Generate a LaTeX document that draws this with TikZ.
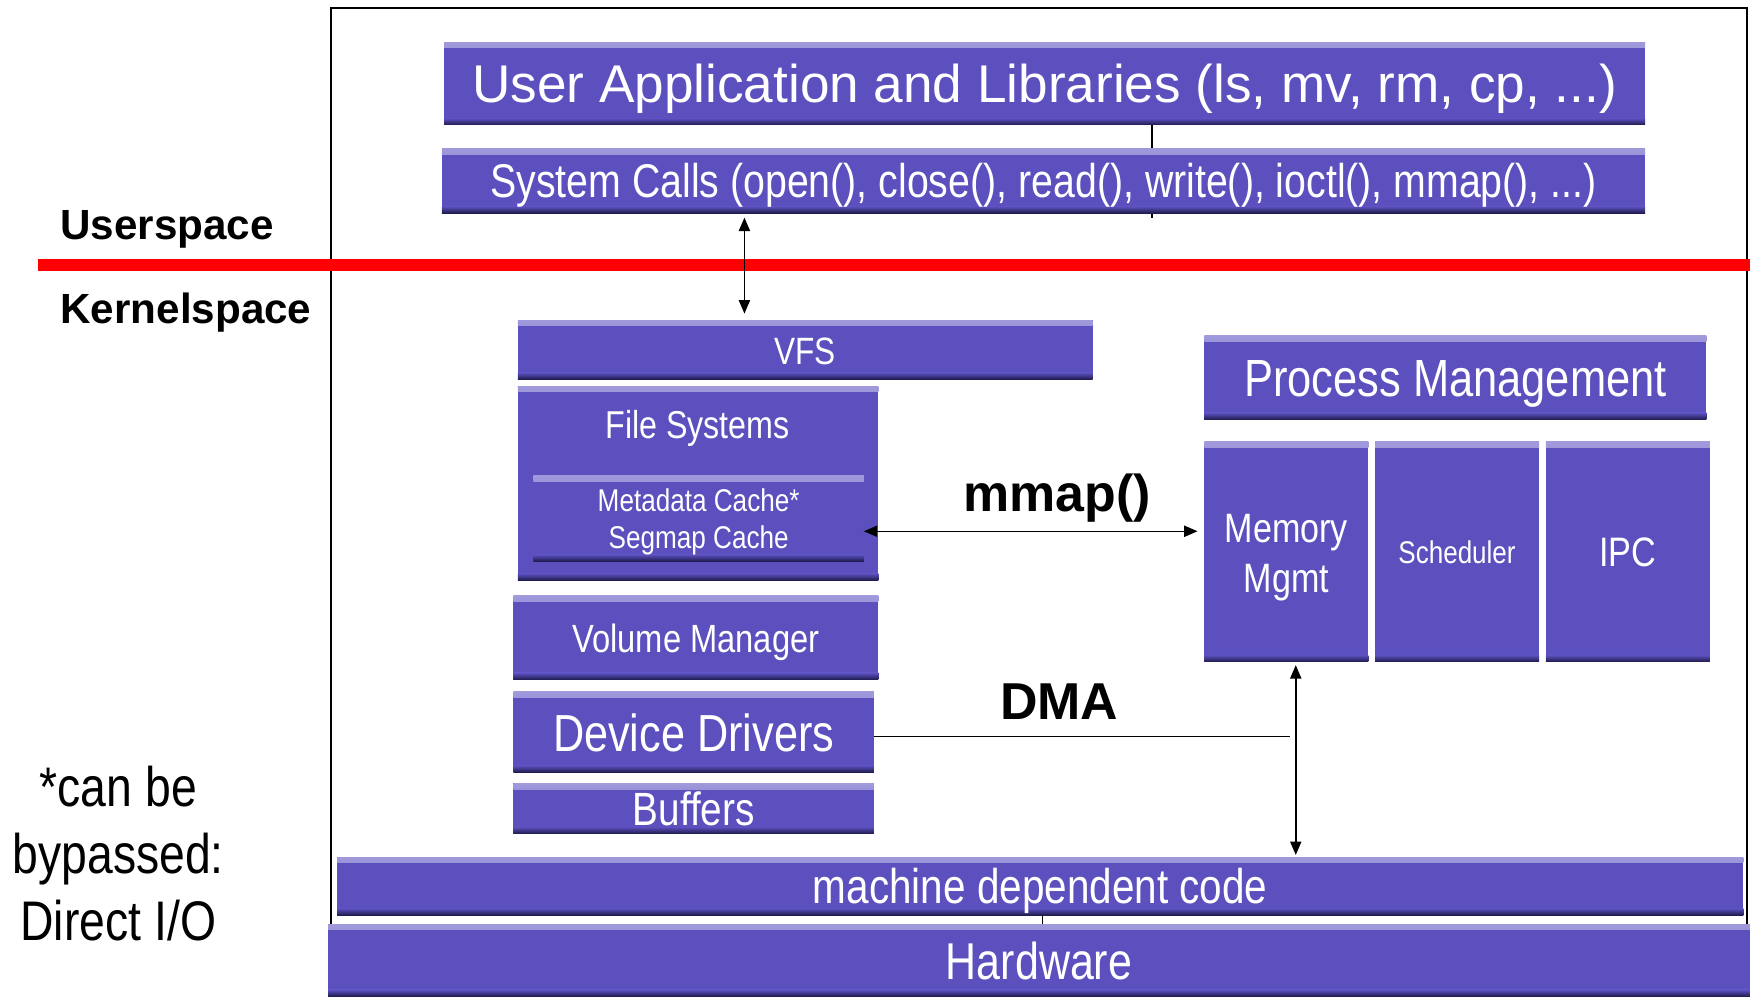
\documentclass[tikz,border=0pt]{standalone}
\usepackage{fontspec}
\setmainfont{Liberation Sans}
\newfontfamily\cond[FakeStretch=0.83]{Liberation Sans}
\usetikzlibrary{arrows.meta}
\pgfdeclarelayer{bg}
\pgfsetlayers{bg,main}
\definecolor{boxc}{RGB}{91,80,190}
\definecolor{boxlight}{RGB}{160,154,220}
\definecolor{boxdark}{RGB}{30,26,76}
\newcommand\fsz[2]{\fontsize{#1}{#2}\selectfont}
\begin{document}
\begin{tikzpicture}[x=1pt,y=-1pt,
  box/.style={fill=boxc, text=white, inner sep=0pt, outer sep=0pt, align=center, text depth=0pt,
    path picture={
      \shade[top color=boxlight,bottom color=boxc] (path picture bounding box.north west) rectangle ([yshift=-5pt]path picture bounding box.north east);
      \shade[top color=boxc,bottom color=boxdark] ([yshift=6pt]path picture bounding box.south west) rectangle (path picture bounding box.south east);}},
  dbl/.style={{Triangle[length=12pt,width=10pt]}-{Triangle[length=12pt,width=10pt]}, line width=1.3pt},
  conn/.style={line width=1.3pt},
  side/.style={font={\bfseries\fsz{37.8}{40}}, anchor=base west, inner sep=0pt},
  big/.style={font={\bfseries\fsz{46.5}{50}}, inner sep=0pt}
]
\useasboundingbox (0,0) rectangle (1568,893);
% frame
\draw[line width=1.8pt] (297,7) rectangle (1565,880);

% boxes
\node[box, minimum width=1076pt, minimum height=74pt, font=\fsz{47.6}{57}] (user) at (936,75) {User Application and Libraries (ls, mv, rm, cp, ...)};
\node[box, minimum width=1078pt, minimum height=58pt, font={\cond\fsz{42.4}{50}}] (sys) at (935,162) {System Calls (open(), close(), read(), write(), ioctl(), mmap(), ...)};
\node[box, minimum width=515pt, minimum height=53pt, font={\cond\fsz{34.1}{40}}] (vfs) at (721.5,313.5) {\raisebox{-2pt}{VFS}};
\node[box, minimum width=323pt, minimum height=174pt] (fs) at (625.5,433) {};
\node[text=white, inner sep=0pt, text depth=0pt, font={\cond\fsz{34.8}{40}}] (fslabel) at (625,380) {File Systems};
\node[box, minimum width=296pt, minimum height=77pt, font={\cond\fsz{28.2}{33}}] (cache) at (626,464.5) {Metadata Cache*\\Segmap Cache};
\node[box, minimum width=327pt, minimum height=75pt, font={\cond\fsz{35.3}{40}}] (vol) at (623.5,571.5) {Volume Manager};
\node[box, minimum width=323pt, minimum height=72pt, font={\cond\fsz{46.7}{50}}] (dev) at (621.5,656) {Device Drivers};
\node[box, minimum width=323pt, minimum height=45pt, font={\cond\fsz{41.8}{45}}] (buf) at (621.5,724.5) {Buffers};
\node[box, minimum width=1260pt, minimum height=52pt, font={\cond\fsz{43.7}{48}}] (md) at (932,794) {machine dependent code};
\node[box, minimum width=1274pt, minimum height=65pt, font={\cond\fsz{46.4}{50}}] (hw) at (931,860.5) {Hardware};
\node[box, minimum width=450pt, minimum height=75pt, font={\cond\fsz{46.9}{50}}] (pm) at (1304,338.5) {\raisebox{-2pt}{Process Management}};
\node[box, minimum width=147pt, minimum height=197pt, font={\cond\fsz{36.8}{45}}] (mem) at (1152.5,494.5) {\raisebox{-2pt}{Memory}\\\raisebox{-2pt}{Mgmt}};
\node[box, minimum width=147pt, minimum height=197pt, font={\cond\fsz{28.1}{32}}] (sch) at (1305.5,494.5) {Scheduler};
\node[box, minimum width=147pt, minimum height=197pt, font={\cond\fsz{36.9}{40}}] (ipc) at (1458.5,494.5) {IPC};

% red separator
\coordinate (r1) at (34,237.5);
\coordinate (r2) at (1568,237.5);
\draw[red, line width=10.5pt] (r1) -- (r2);

% side labels
\node[side] (us) at (54,215) {Userspace};
\node[side] (ks) at (54,290) {Kernelspace};
\node[font={\cond\fsz{50}{60}}, align=center, inner sep=0pt] (note) at (106,765) {*can be\\bypassed:\\Direct I/O};

% connector labels
\node[big] (mm) at (947,446) {mmap()};
\node[big] (dma) at (949,629) {DMA};

% connectors
\coordinate (xb) at (1032,0);
\begin{pgfonlayer}{bg}
\draw[conn] (user.south -| xb) -- ([yshift=-4pt]sys.south -| xb);
\end{pgfonlayer}
\coordinate (xa) at (667,0);
\draw[dbl, shorten <=4pt, shorten >=6pt] (sys.south -| xa) -- (vfs.north -| xa);
\coordinate (ym) at (0,476);
\draw[dbl, shorten >=6pt] (cache.east |- ym) -- (mem.west |- ym);
\coordinate (dmaend) at (1156,660);
\draw[conn] (dev.east |- dmaend) -- (dmaend);
\coordinate (xv) at (1161,0);
\draw[dbl, shorten <=3pt, shorten >=2pt] (mem.south -| xv) -- (md.north -| xv);
\coordinate (xh) at (934,0);
\draw[conn] (md.south -| xh) -- (hw.north -| xh);
\end{tikzpicture}
\end{document}
